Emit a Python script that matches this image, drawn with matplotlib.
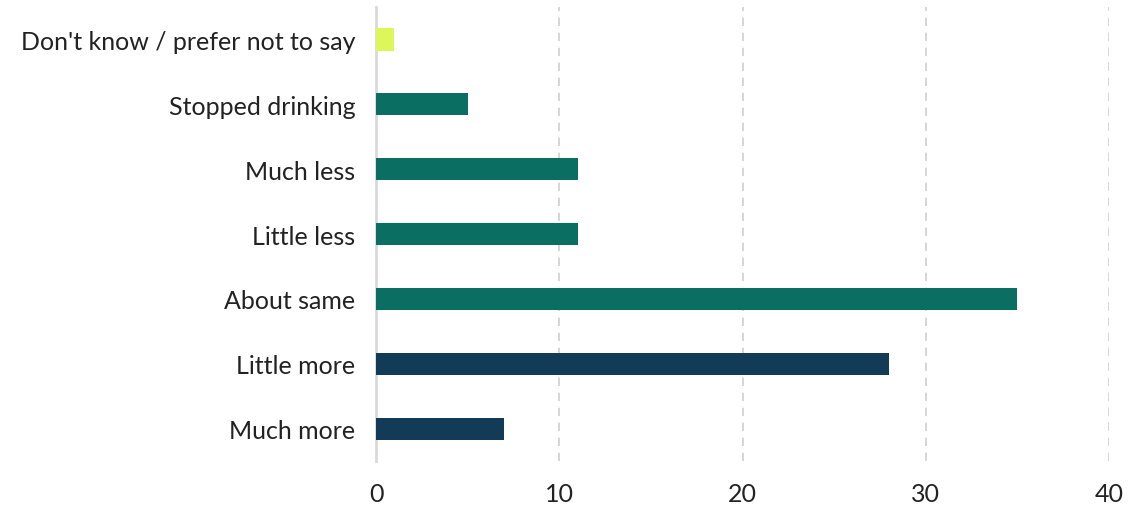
import matplotlib.pyplot as plt

categories = ['Much more', 'Little more', 'About same', 'Little less',
              'Much less', 'Stopped drinking', "Don't know / prefer not to say"]
values = [7, 28, 35, 11, 11, 5, 1]
colors = ['#123B57', '#123B57', '#0A6E62', '#0A6E62', '#0A6E62', '#0A6E62', '#DDF65A']
xticks = [0, 10, 20, 30, 40]

plt.rcParams['font.family'] = ['Lato', 'DejaVu Sans']

fig = plt.figure(figsize=(11.31, 5.06), dpi=100)
ax = fig.add_axes([0.3325, 0.087, 0.648, 0.897])

ax.barh(range(len(categories)), values, height=0.34, color=colors, zorder=3)

ax.set_xlim(0, 40)
ax.set_ylim(-0.5, len(categories) - 0.5)
ax.set_xticks(xticks)
ax.set_yticks(range(len(categories)))
ax.set_yticklabels(categories)

# dashed vertical grid
ax.grid(axis='x', linestyle=(0, (5, 4)), color='#d0d0d0', linewidth=1.2, zorder=0)
ax.grid(axis='y', visible=False)

for s in ['top', 'right', 'bottom']:
    ax.spines[s].set_visible(False)
ax.spines['left'].set_color('#d9d9d9')
ax.spines['left'].set_linewidth(2)

ax.tick_params(axis='both', length=0, labelsize=18, colors='#222222')
ax.tick_params(axis='x', pad=15)
ax.tick_params(axis='y', pad=15)

fig.savefig('out.png', dpi=100)
